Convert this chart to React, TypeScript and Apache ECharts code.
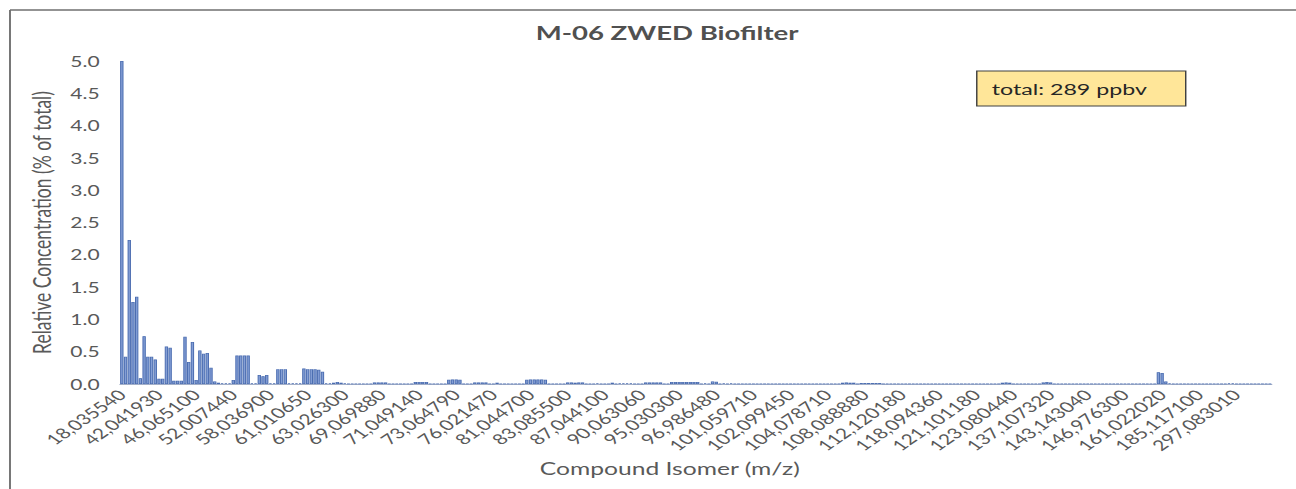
import React, { useEffect, useRef } from "react";
import * as echarts from "echarts";

// Tick labels shown every 10th category (m/z)
const tickLabels: string[] = [
  "18,035540", "42,041930", "46,065100", "52,007440", "58,036900", "61,010650",
  "63,026300", "69,069880", "71,049140", "73,064790", "76,021470", "81,044700",
  "83,085500", "87,044100", "90,063060", "95,030300", "96,986480", "101,059710",
  "102,099450", "104,078710", "108,088880", "112,120180", "118,094360", "121,101180",
  "123,080440", "137,107320", "143,143040", "146,976300", "161,022020", "185,117100",
  "297,083010",
];

// Relative concentration (% of total), one value per compound isomer, 10 per row
const values: number[] = [
  5.0, 0.42, 2.23, 1.27, 1.35, 0.09, 0.74, 0.42, 0.42, 0.38,
  0.08, 0.08, 0.58, 0.56, 0.05, 0.05, 0.05, 0.73, 0.34, 0.65,
  0.06, 0.52, 0.47, 0.48, 0.25, 0.04, 0.02, 0.01, 0.01, 0.01,
  0.06, 0.44, 0.44, 0.44, 0.44, 0.01, 0.01, 0.14, 0.12, 0.14,
  0.01, 0.01, 0.23, 0.23, 0.23, 0.01, 0.01, 0.01, 0.01, 0.24,
  0.23, 0.23, 0.23, 0.22, 0.19, 0.01, 0.01, 0.02, 0.03, 0.02,
  0.01, 0.004, 0.005, 0.005, 0.005, 0.005, 0.004, 0.004, 0.025, 0.025,
  0.025, 0.025, 0.004, 0.004, 0.004, 0.004, 0.004, 0.004, 0.004, 0.03,
  0.03, 0.03, 0.03, 0.004, 0.004, 0.004, 0.004, 0.004, 0.065, 0.07,
  0.07, 0.065, 0.004, 0.004, 0.004, 0.025, 0.025, 0.025, 0.025, 0.004,
  0.004, 0.02, 0.004, 0.004, 0.004, 0.004, 0.004, 0.004, 0.004, 0.065,
  0.07, 0.07, 0.07, 0.07, 0.065, 0.004, 0.004, 0.004, 0.004, 0.004,
  0.025, 0.025, 0.02, 0.025, 0.025, 0.004, 0.004, 0.004, 0.01, 0.004,
  0.004, 0.004, 0.02, 0.004, 0.01, 0.01, 0.01, 0.01, 0.004, 0.004,
  0.004, 0.025, 0.025, 0.025, 0.025, 0.025, 0.004, 0.004, 0.03, 0.03,
  0.03, 0.03, 0.03, 0.03, 0.03, 0.03, 0.004, 0.01, 0.004, 0.04,
  0.035, 0.004, 0.01, 0.004, 0.01, 0.004, 0.004, 0.004, 0.004, 0.004,
  0.004, 0.004, 0.004, 0.004, 0.004, 0.004, 0.004, 0.004, 0.004, 0.004,
  0.004, 0.004, 0.004, 0.004, 0.004, 0.004, 0.004, 0.004, 0.004, 0.004,
  0.004, 0.004, 0.004, 0.004, 0.02, 0.025, 0.02, 0.02, 0.004, 0.015,
  0.015, 0.015, 0.015, 0.015, 0.015, 0.004, 0.004, 0.004, 0.004, 0.004,
  0.004, 0.004, 0.004, 0.004, 0.004, 0.004, 0.004, 0.004, 0.004, 0.004,
  0.004, 0.004, 0.004, 0.004, 0.004, 0.004, 0.004, 0.004, 0.004, 0.004,
  0.004, 0.004, 0.004, 0.004, 0.004, 0.004, 0.004, 0.02, 0.025, 0.02,
  0.004, 0.004, 0.004, 0.004, 0.004, 0.004, 0.004, 0.004, 0.025, 0.03,
  0.025, 0.004, 0.004, 0.004, 0.004, 0.004, 0.004, 0.004, 0.004, 0.004,
  0.004, 0.004, 0.004, 0.004, 0.004, 0.004, 0.004, 0.004, 0.004, 0.004,
  0.004, 0.004, 0.004, 0.004, 0.004, 0.004, 0.004, 0.004, 0.004, 0.18,
  0.17, 0.04, 0.01, 0.004, 0.004, 0.004, 0.004, 0.004, 0.004, 0.004,
  0.004, 0.004, 0.004, 0.004, 0.004, 0.004, 0.004, 0.004, 0.01, 0.01,
  0.004, 0.004, 0.004, 0.004, 0.004, 0.004, 0.004, 0.004, 0.004, 0.004,
];

const LABEL_EVERY = 10;
const categories: string[] = values.map((_, i) =>
  i % LABEL_EVERY === 0 ? tickLabels[i / LABEL_EVERY] ?? "" : ""
);

const TITLE = "M-06 ZWED Biofilter";
const X_NAME = "Compound Isomer (m/z)";
const Y_NAME = "Relative Concentration (% of total)";
const TOTAL_TEXT = "total: 289 ppbv";

const STRETCH = 1.45;
const VIEW_W = 1296;
const INNER_W = Math.round(VIEW_W / STRETCH);
const CANVAS_W = INNER_W + 20; // extends past the right edge (clipped)
const H = 489;
const FONT = "Lato, 'Open Sans', sans-serif";
const GRAY = "#595959";

export default function App() {
  const ref = useRef<HTMLDivElement>(null);

  useEffect(() => {
    if (!ref.current) return;
    const chart = echarts.init(ref.current, undefined, { renderer: "svg" });
    const sx = (x: number) => x / STRETCH;
    chart.setOption({
      animation: false,
      backgroundColor: "#ffffff",
      title: {
        text: TITLE,
        left: sx(660),
        top: 18,
        textAlign: "center",
        textStyle: { fontFamily: FONT, fontWeight: "bold", fontSize: 19, color: "#505050" },
      },
      grid: { left: sx(120), right: CANVAS_W - sx(1272), top: 61, bottom: H - 384 },
      xAxis: {
        type: "category",
        data: categories,
        boundaryGap: true,
        axisLine: { lineStyle: { color: "#A3AFC8", width: 1 } },
        axisTick: { show: false },
        axisLabel: {
          interval: LABEL_EVERY - 1,
          rotate: 45,
          fontSize: 14.5,
          color: GRAY,
          fontFamily: FONT,
          margin: 8,
        },
        name: X_NAME,
        nameLocation: "middle",
        nameGap: 75,
        nameTextStyle: { fontSize: 17, color: GRAY, fontFamily: FONT, padding: [0, 36, 0, 0] },
      },
      yAxis: {
        type: "value",
        min: 0,
        max: 5,
        interval: 0.5,
        axisLine: { show: false },
        axisTick: { show: false },
        splitLine: { show: false },
        axisLabel: {
          formatter: (v: number) => v.toFixed(1),
          fontSize: 14.5,
          color: GRAY,
          fontFamily: FONT,
          margin: 14,
        },
        name: Y_NAME,
        nameLocation: "middle",
        nameGap: 44,
        nameTextStyle: { fontSize: 17.5, color: GRAY, fontFamily: FONT },
      },
      series: [
        {
          type: "bar",
          data: values,
          barCategoryGap: "10%",
          itemStyle: { color: "#849FD6", borderColor: "#4A6CB0", borderWidth: 0.7 },
        },
      ],
      graphic: [
        {
          type: "line",
          silent: true,
          shape: { x1: sx(10), y1: 10, x2: CANVAS_W, y2: 10 },
          style: { stroke: "#6F6F6F", lineWidth: 1.3 },
        },
        {
          type: "line",
          silent: true,
          shape: { x1: sx(10), y1: 10, x2: sx(10), y2: H },
          style: { stroke: "#6F6F6F", lineWidth: 1.3 },
        },
        {
          type: "rect",
          shape: { x: sx(977), y: 71, width: sx(1186) - sx(977), height: 35 },
          style: { fill: "#FFE699", stroke: "#404040", lineWidth: 1 },
        },
        {
          type: "text",
          x: sx(992),
          y: 88.5,
          style: {
            text: TOTAL_TEXT,
            fontFamily: FONT,
            fontSize: 16,
            fill: "#262626",
            verticalAlign: "middle",
          },
        },
      ],
    });
    return () => chart.dispose();
  }, []);

  return (
    <div
      style={{
        position: "absolute",
        left: 0,
        top: 0,
        width: VIEW_W,
        height: H,
        overflow: "hidden",
        background: "#fff",
      }}
    >
      <div
        ref={ref}
        style={{
          width: CANVAS_W,
          height: H,
          transform: `scaleX(${VIEW_W / INNER_W})`,
          transformOrigin: "0 0",
        }}
      />
    </div>
  );
}
